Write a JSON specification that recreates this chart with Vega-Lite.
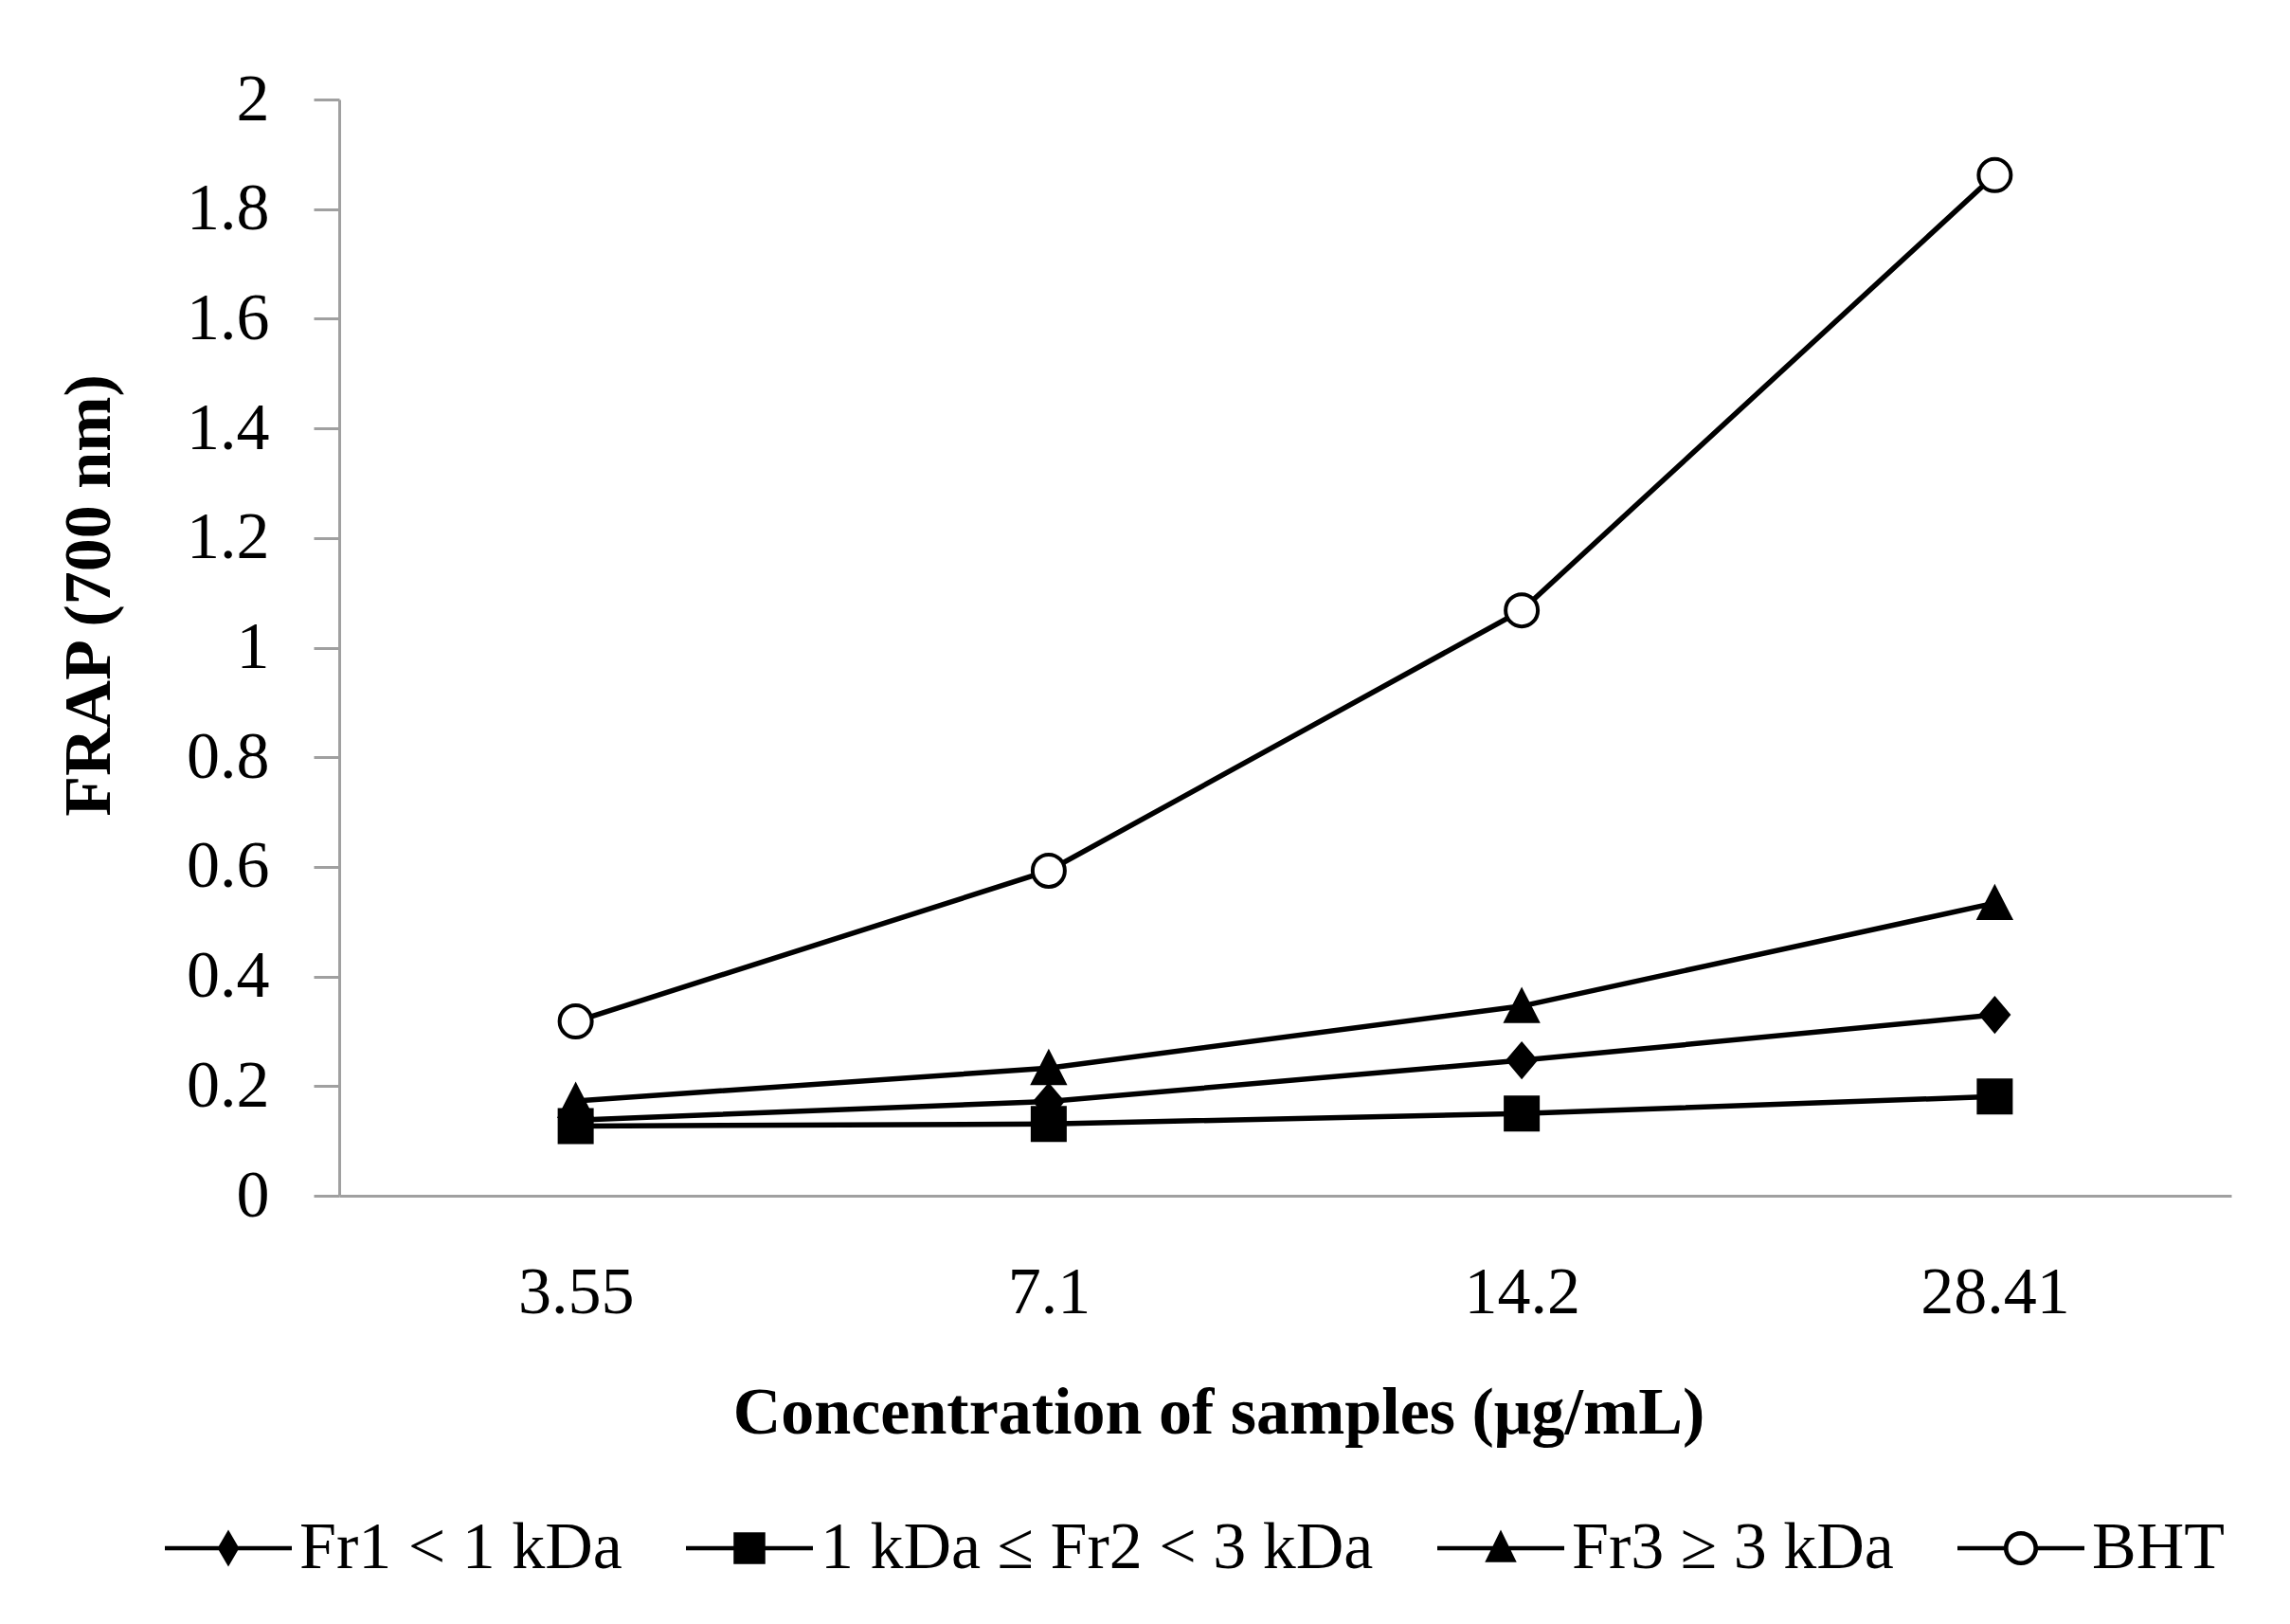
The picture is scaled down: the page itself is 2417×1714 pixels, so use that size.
{
  "$schema": "https://vega.github.io/schema/vega-lite/v6.json",
  "width": 1997,
  "height": 1157,
  "autosize": "none",
  "padding": {"left": 358, "top": 105, "right": 62, "bottom": 452},
  "background": "white",
  "config": {
    "view": {"stroke": null},
    "font": "Liberation Serif",
    "axis": {
      "labelFont": "Liberation Serif",
      "labelFontSize": 70,
      "labelColor": "black",
      "titleFont": "Liberation Serif",
      "titleFontSize": 70,
      "titleFontWeight": "bold",
      "titleColor": "black",
      "domainColor": "#a0a0a0",
      "domainWidth": 3,
      "tickColor": "#a0a0a0",
      "tickWidth": 3,
      "grid": false
    }
  },
  "data": {
    "values": [
      {"conc": "3.55", "series": "Fr1 < 1 kDa", "frap": 0.138},
      {"conc": "7.1", "series": "Fr1 < 1 kDa", "frap": 0.172},
      {"conc": "14.2", "series": "Fr1 < 1 kDa", "frap": 0.247},
      {"conc": "28.41", "series": "Fr1 < 1 kDa", "frap": 0.330},
      {"conc": "3.55", "series": "1 kDa ≤ Fr2 < 3 kDa", "frap": 0.127},
      {"conc": "7.1", "series": "1 kDa ≤ Fr2 < 3 kDa", "frap": 0.131},
      {"conc": "14.2", "series": "1 kDa ≤ Fr2 < 3 kDa", "frap": 0.150},
      {"conc": "28.41", "series": "1 kDa ≤ Fr2 < 3 kDa", "frap": 0.181},
      {"conc": "3.55", "series": "Fr3 ≥ 3 kDa", "frap": 0.173},
      {"conc": "7.1", "series": "Fr3 ≥ 3 kDa", "frap": 0.233},
      {"conc": "14.2", "series": "Fr3 ≥ 3 kDa", "frap": 0.346},
      {"conc": "28.41", "series": "Fr3 ≥ 3 kDa", "frap": 0.534},
      {"conc": "3.55", "series": "BHT", "frap": 0.318},
      {"conc": "7.1", "series": "BHT", "frap": 0.593},
      {"conc": "14.2", "series": "BHT", "frap": 1.068},
      {"conc": "28.41", "series": "BHT", "frap": 1.862}
    ]
  },
  "encoding": {
    "x": {
      "field": "conc",
      "type": "ordinal",
      "sort": ["3.55", "7.1", "14.2", "28.41"],
      "scale": {"type": "point", "padding": 0.5},
      "axis": {
        "title": "Concentration of samples (μg/mL)",
        "titleX": 928,
        "titleY": 250,
        "titleAlign": "center",
        "titleBaseline": "alphabetic",
        "labelAngle": 0,
        "labelBaseline": "alphabetic",
        "labelPadding": 123,
        "ticks": false,
        "tickSize": 0
      }
    },
    "y": {
      "field": "frap",
      "type": "quantitative",
      "scale": {"domain": [0, 2], "nice": false},
      "axis": {
        "title": "FRAP (700 nm)",
        "values": [0, 0.2, 0.4, 0.6, 0.8, 1, 1.2, 1.4, 1.6, 1.8, 2],
        "format": "~g",
        "tickSize": 27,
        "labelPadding": 47,
        "titleX": -243,
        "titleY": 523,
        "titleAngle": -90,
        "titleAlign": "center",
        "titleBaseline": "alphabetic"
      }
    }
  },
  "layer": [
    {
      "mark": {"type": "line", "color": "black", "strokeWidth": 5.5},
      "encoding": {"detail": {"field": "series"}}
    },
    {
      "mark": {"type": "point", "filled": true, "opacity": 1, "size": 1600, "stroke": "black", "strokeWidth": 4},
      "encoding": {
        "shape": {
          "condition": [
            {"test": "datum.series === 'Fr1 < 1 kDa'", "value": "M0,-0.85L0.72,0L0,0.85L-0.72,0Z"},
            {"test": "datum.series === '1 kDa ≤ Fr2 < 3 kDa'", "value": "M-0.85,-0.85H0.85V0.85H-0.85Z"},
            {"test": "datum.series === 'Fr3 ≥ 3 kDa'", "value": "M0,-0.8L0.82,0.8H-0.82Z"}
          ],
          "value": "M0.85,0A0.85,0.85 0 1,1 -0.85,0A0.85,0.85 0 1,1 0.85,0Z"
        },
        "fill": {
          "condition": {"test": "datum.series === 'BHT'", "value": "white"},
          "value": "black"
        }
      }
    },
    {
      "mark": {"type": "point", "filled": true, "color": "black", "opacity": 1, "size": 0},
      "encoding": {
        "shape": {
          "field": "series",
          "type": "nominal",
          "scale": {
            "domain": ["Fr1 < 1 kDa", "1 kDa ≤ Fr2 < 3 kDa", "Fr3 ≥ 3 kDa", "BHT"],
            "range": [
              "M-1,-0.035H1V0.035H-1ZM0,-0.29L0.17,0L0,0.29L-0.17,0Z",
              "M-1,-0.035H1V0.035H-1ZM-0.25,-0.25H0.25V0.25H-0.25Z",
              "M-1,-0.035H1V0.035H-1ZM0,-0.29L0.25,0.22H-0.25Z",
              "M-1,-0.035H-0.24V0.035H-1ZM0.24,-0.035H1V0.035H0.24ZM0.27,0A0.27,0.27 0 1,1 -0.27,0A0.27,0.27 0 1,1 0.27,0ZM0.2,0A0.2,0.2 0 1,0 -0.2,0A0.2,0.2 0 1,0 0.2,0Z"
            ]
          },
          "legend": {
            "title": null,
            "orient": "none",
            "legendX": -184,
            "legendY": 1462,
            "direction": "horizontal",
            "columns": 4,
            "columnPadding": 67,
            "padding": 0,
            "symbolSize": 17956,
            "symbolFillColor": "black",
            "symbolStrokeWidth": 0,
            "labelFont": "Liberation Serif",
            "labelFontSize": 70,
            "labelColor": "black",
            "labelOffset": 8,
            "labelLimit": 1500
          }
        }
      }
    }
  ]
}
